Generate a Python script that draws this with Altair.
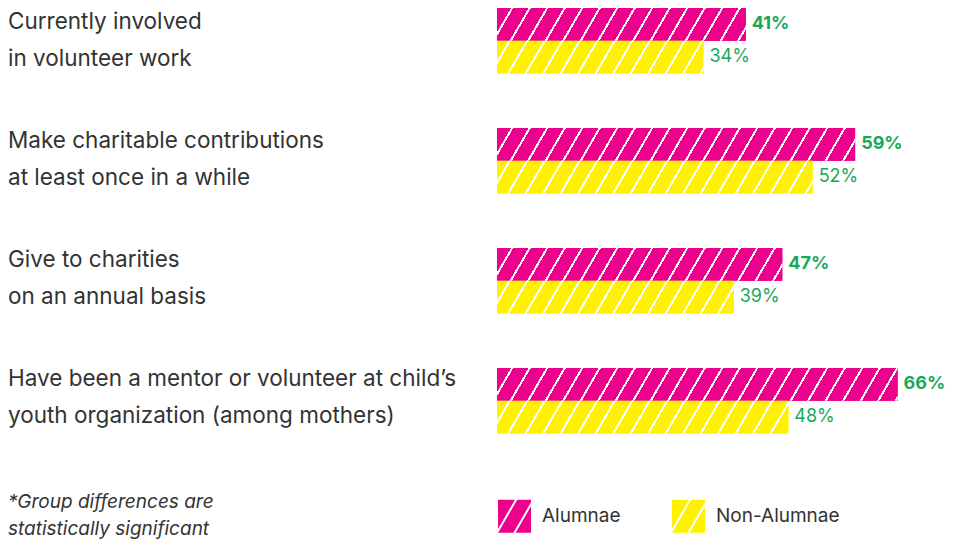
import altair as alt
import pandas as pd

# ---------------- data ----------------
categories = [
    "Currently involved\nin volunteer work",
    "Make charitable contributions\nat least once in a while",
    "Give to charities\non an annual basis",
    "Have been a mentor or volunteer at child’s\nyouth organization (among mothers)",
]
series = ["Alumnae", "Non-Alumnae"]
alumnae = [41, 59, 47, 66]
non_alumnae = [34, 52, 39, 48]
footnote = "*Group differences are\nstatistically significant"

# ---------------- style ----------------
PINK = "#EC008C"
YELLOW = "#FFF200"
GREEN = "#19A85A"
TEXT = "#333333"
FONT = "Inter"

PX_PER_PCT = 6.07
X0 = 489
BAR_H = 32.75
SHIFT = 19.0        # horizontal shift of a stripe over the bar height
PERIOD = 17.5       # stripe spacing (px)
STRIPE_W = 2.3      # stripe width (px, horizontal)
PHASE = {"Alumnae": 14.0, "Non-Alumnae": 11.5}
COLORS = {"Alumnae": PINK, "Non-Alumnae": YELLOW}

rows = []
for i, cat in enumerate(categories):
    for s, vals in zip(series, (alumnae, non_alumnae)):
        rows.append({"cat": cat, "series": s, "value": vals[i],
                     "label": f"{vals[i]}%", "key": f"{i}|{s}"})
df = pd.DataFrame(rows)


def stripe_gradient(width_px, color, phase):
    total = width_px + SHIFT
    r = SHIFT / width_px
    s = (1 + r) / (1 + r * r)
    stops = [{"offset": 0, "color": color}]
    u = phase % PERIOD
    while u < total:
        a = u / total
        b = min((u + STRIPE_W) / total, 1.0)
        stops += [{"offset": a, "color": color}, {"offset": a, "color": "white"},
                  {"offset": b, "color": "white"}, {"offset": b, "color": color}]
        u += PERIOD
    stops.append({"offset": 1, "color": color})
    return {"gradient": "linear", "x1": 0, "y1": 0, "x2": s, "y2": s * r, "stops": stops}


# ---------- striped square symbol path for the legend ----------
def _inter(p, q, axis, bound):
    t = (bound - p[axis]) / (q[axis] - p[axis])
    return (p[0] + t * (q[0] - p[0]), p[1] + t * (q[1] - p[1]))


def _clip(poly, axis, bound, keep_greater):
    out = []
    for i in range(len(poly)):
        cur, prev = poly[i], poly[i - 1]
        cin = cur[axis] >= bound if keep_greater else cur[axis] <= bound
        pin = prev[axis] >= bound if keep_greater else prev[axis] <= bound
        if cin:
            if not pin:
                out.append(_inter(prev, cur, axis, bound))
            out.append(cur)
        elif pin:
            out.append(_inter(prev, cur, axis, bound))
    return out


def swatch_path():
    unit = 16.5
    dxn = 2 * SHIFT / BAR_H
    w = STRIPE_W / unit
    tops = [u / unit - 1 for u in (17.0, 34.5, 52.0)]
    edges = [-6.0]
    for t in tops:
        edges += [t, t + w]
    edges.append(6.0)
    parts = []
    for ua, ub in zip(edges[0::2], edges[1::2]):
        poly = [(ua, -1), (ub, -1), (ub - dxn, 1), (ua - dxn, 1)]
        for axis, bound, kg in ((0, -1, True), (0, 1, False), (1, -1, True), (1, 1, False)):
            if poly:
                poly = _clip(poly, axis, bound, kg)
        if len(poly) >= 3:
            parts.append("M" + "L".join(f"{x:.3f},{y:.3f}" for x, y in poly) + "Z")
    return "".join(parts)


# ---------------- scales ----------------
xscale = alt.Scale(domain=[0, 100], range=[X0, X0 + 100 * PX_PER_PCT])
yscale = alt.Scale(domain=categories, range=[0, 425.5], paddingInner=0.454, paddingOuter=0)
yoff_scale = alt.Scale(domain=series, paddingInner=0, paddingOuter=0)

base = alt.Chart(df).encode(
    y=alt.Y("cat:N", scale=yscale, axis=None, sort=categories),
    yOffset=alt.YOffset("series:N", scale=yoff_scale, sort=series),
    x=alt.X("value:Q", scale=xscale, axis=None, stack=None),
)

solid = base.mark_bar().encode(
    fill=alt.Fill(
        "series:N",
        scale=alt.Scale(domain=series, range=[PINK, YELLOW]),
        legend=alt.Legend(
            title=None, orient="none", direction="horizontal",
            legendX=490, legendY=491.7, padding=0,
            symbolType=swatch_path(), symbolSize=1089, symbolStrokeWidth=0,
            symbolOpacity=1, labelFont=FONT, labelFontSize=19, labelColor=TEXT,
            labelOffset=11, columnPadding=51, labelLimit=400,
        ),
    )
)

layers = [solid]
for rec in rows:
    grad = stripe_gradient(rec["value"] * PX_PER_PCT, COLORS[rec["series"]], PHASE[rec["series"]])
    layers.append(
        base.transform_filter(alt.datum.key == rec["key"]).mark_bar(fill=grad)
    )

for s, weight in zip(series, ("bold", "normal")):
    layers.append(
        base.transform_filter(alt.datum.series == s)
        .mark_text(align="left", baseline="middle", dx=6, font=FONT, fontSize=18,
                   fontWeight=weight, color=GREEN)
        .encode(text="label:N")
    )

cat_labels = alt.Chart(pd.DataFrame({"cat": categories})).mark_text(
    align="left", baseline="alphabetic", lineBreak="\n", font=FONT, fontSize=22.5,
    lineHeight=37, color=TEXT,
).encode(
    x=alt.value(0),
    y=alt.Y("cat:N", sort=categories, axis=None,
            scale=alt.Scale(type="point", domain=categories, range=[21, 378], padding=0)),
    text="cat:N",
)
layers.append(cat_labels)

note = alt.Chart(pd.DataFrame({"t": [footnote]})).mark_text(
    align="left", baseline="alphabetic", lineBreak="\n", font=FONT, fontSize=19,
    fontStyle="italic", lineHeight=27, color=TEXT,
).encode(x=alt.value(0), y=alt.value(500), text="t:N")
layers.append(note)

chart = (
    alt.layer(*layers)
    .resolve_scale(y="independent")
    .properties(width=940, height=532, padding=0,
                autosize=alt.AutoSizeParams(type="none"))
    .configure_view(stroke=None)
)

chart.save("out.html", embed_options={"renderer": "svg", "actions": False})
